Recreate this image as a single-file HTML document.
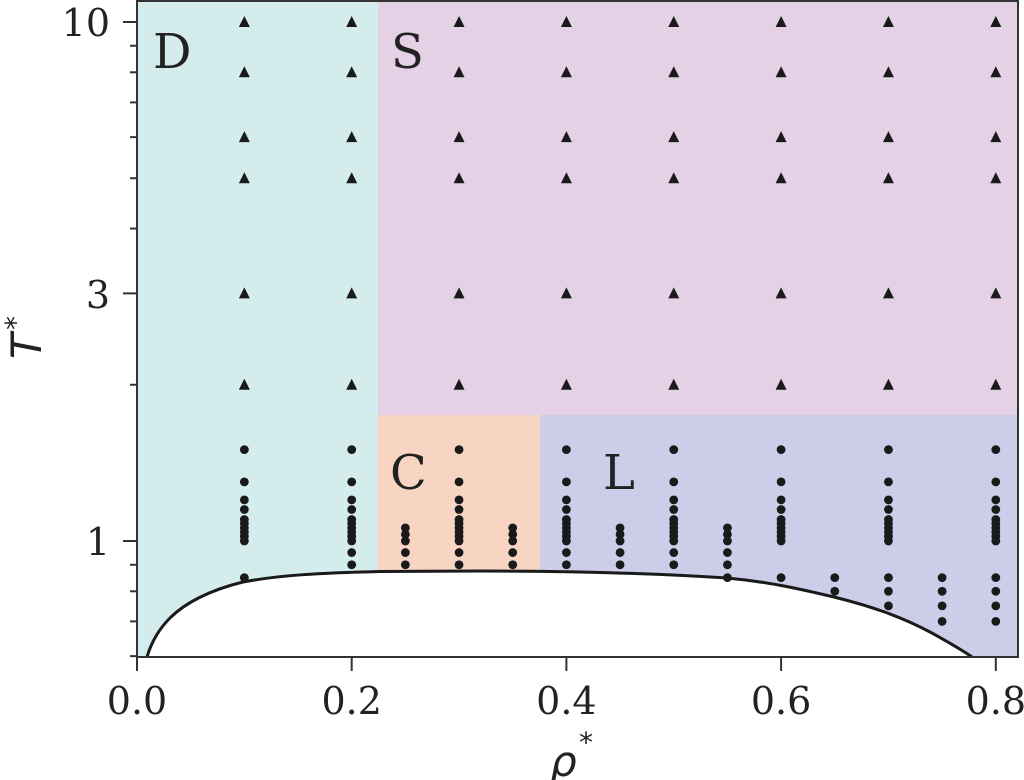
<!DOCTYPE html>
<html><head><meta charset="utf-8"><style>
html,body{margin:0;padding:0;background:#fff;width:1024px;height:780px;overflow:hidden}
text{font-family:"DejaVu Serif","Liberation Serif",serif;fill:#222}
</style></head><body>
<svg id="s" width="1024" height="780" viewBox="0 0 1024 780" xmlns="http://www.w3.org/2000/svg">
<rect x="137" y="1" width="241" height="656" fill="#d5ecec"/>
<rect x="378" y="1" width="640" height="414" fill="#e4d1e5"/>
<rect x="378" y="415" width="162" height="242" fill="#f8d4c2"/>
<rect x="540" y="415" width="478" height="242" fill="#cccde8"/>
<path d="M147,657 C152,640 160,628 170,618 C185,603 210,590 243,582 C280,575 320,573 380,571.5 L480,571 C560,571 650,573 727,578 C770,582 800,589 834,597 C870,606 900,616 930,632 C950,643 962,650 972,657 L1018,657 L1018,660 L137,660 L137,657 Z" fill="#fff"/>
<path d="M147,657 C152,640 160,628 170,618 C185,603 210,590 243,582 C280,575 320,573 380,571.5 L480,571 C560,571 650,573 727,578 C770,582 800,589 834,597 C870,606 900,616 930,632 C950,643 962,650 972,657" fill="none" stroke="#1a1a1a" stroke-width="3"/>
<g id="m" fill="#1a1a1a"></g>
<rect x="137" y="1" width="881" height="656" fill="none" stroke="#333" stroke-width="2"/>
<g id="t" stroke="#333" stroke-width="2"></g>
<g font-size="38" text-anchor="middle">
<text x="137" y="714">0.0</text><text x="351.7" y="714">0.2</text><text x="566.4" y="714">0.4</text><text x="781.1" y="714">0.6</text><text x="995.8" y="714">0.8</text>
</g>
<g font-size="38" text-anchor="end">
<text x="110" y="36">10</text><text x="110" y="308">3</text><text x="110" y="555">1</text>
</g>
<g font-size="48">
<text x="153" y="68">D</text><text x="391" y="68">S</text><text x="390" y="489">C</text><text x="603" y="489">L</text>
</g>
<text x="550" y="776" font-size="42" font-style="italic" style="font-family:'DejaVu Sans',sans-serif">ρ</text>
<text x="579" y="752" font-size="28" style="font-family:'DejaVu Sans',sans-serif">*</text>
<g transform="translate(41,359) rotate(-90)"><text x="0" y="0" font-size="42" font-style="italic" style="font-family:'DejaVu Sans',sans-serif">T</text><text x="29" y="-16" font-size="28" style="font-family:'DejaVu Sans',sans-serif">*</text></g>
</svg>
<script>
(function(){
var NS="http://www.w3.org/2000/svg";
function X(r){return 137+r*1073.5;}
function Y(t){return 541-519*Math.log10(t);}
var m=document.getElementById('m'),tk=document.getElementById('t');
function dot(r,t){var c=document.createElementNS(NS,'circle');c.setAttribute('cx',X(r));c.setAttribute('cy',Y(t));c.setAttribute('r',4.4);m.appendChild(c);}
function tri(r,t){var x=X(r),y=Y(t);var p=document.createElementNS(NS,'polygon');p.setAttribute('points',(x-5.5)+','+(y+5)+' '+(x+5.5)+','+(y+5)+' '+x+','+(y-6));m.appendChild(p);}
var tp=[1.5,1.3,1.2,1.15,1.1,1.08,1.06,1.04,1.02,1.0];
var sc=[1.06,1.03,1.0,0.95,0.9];
var cols={"0.1":tp.concat([0.85]),"0.2":tp.concat([0.95,0.9]),"0.25":sc,"0.3":tp.concat([0.95,0.9]),"0.35":sc,"0.4":tp.concat([0.95,0.9]),"0.45":sc,"0.5":tp.concat([0.95,0.9]),"0.55":sc.concat([0.85]),"0.6":tp.concat([0.85]),"0.65":[0.85,0.8],"0.7":tp.concat([0.85,0.8,0.75]),"0.75":[0.85,0.8,0.75,0.7],"0.8":tp.concat([0.85,0.8,0.75,0.7])};
for(var k in cols){(function(k){cols[k].forEach(function(t){dot(parseFloat(k),t);});})(k);}
[0.1,0.2,0.3,0.4,0.5,0.6,0.7,0.8].forEach(function(r){[10,8,6,5,3,2].forEach(function(t){tri(r,t);});});
function line(x1,y1,x2,y2){var l=document.createElementNS(NS,'line');l.setAttribute('x1',x1);l.setAttribute('y1',y1);l.setAttribute('x2',x2);l.setAttribute('y2',y2);tk.appendChild(l);}
[0,0.2,0.4,0.6,0.8].forEach(function(r){line(X(r),657,X(r),671);});
[1,3,10].forEach(function(t){line(123,Y(t),137,Y(t));});
[0.6,0.7,0.8,0.9,2,4,5,6,7,8,9].forEach(function(t){line(130,Y(t),137,Y(t));});
})();
</script>
</body></html>
